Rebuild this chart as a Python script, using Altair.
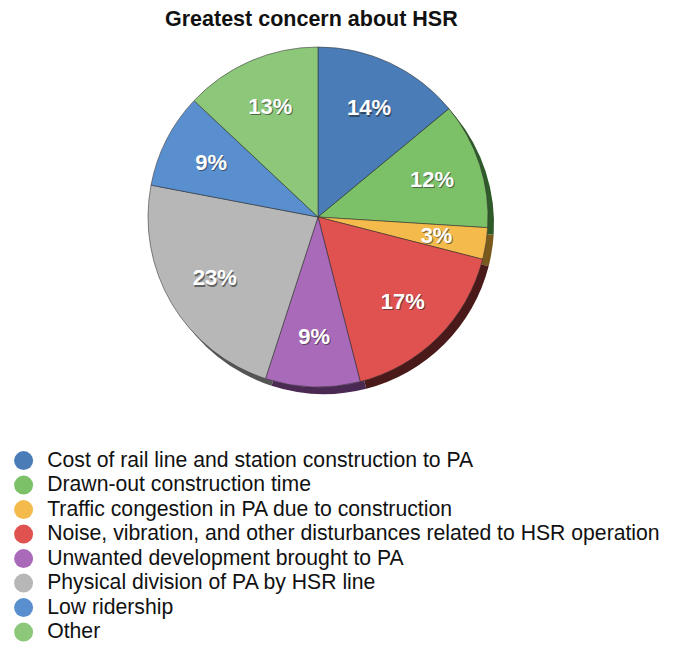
import altair as alt
import pandas as pd

categories = [
    "Cost of rail line and station construction to PA",
    "Drawn-out construction time",
    "Traffic congestion in PA due to construction",
    "Noise, vibration, and other disturbances related to HSR operation",
    "Unwanted development brought to PA",
    "Physical division of PA by HSR line",
    "Low ridership",
    "Other",
]
values = [14, 12, 3, 17, 9, 23, 9, 13]
labels = [f"{v}%" for v in values]
colors = ["#4a7db8", "#7cc068", "#f4bb4c", "#e05250", "#a96ab9", "#b7b7b7", "#5a8fcf", "#8cc77a"]
side_colors = ["#243e5c", "#2f5a2a", "#7a5a1c", "#4a1a1a", "#4a2a52", "#555555", "#2a4a70", "#3a6a34"]

df = pd.DataFrame({
    "category": categories,
    "value": values,
    "label": labels,
    "side": side_colors,
    "order": list(range(len(values))),
})

CX, CY = 310, 179
R = 170
LR = 120

base = alt.Chart(df).encode(
    theta=alt.Theta("value:Q", stack=True),
    order=alt.Order("order:Q"),
)

depth = base.mark_arc(outerRadius=R).encode(
    x=alt.value(CX + 6),
    y=alt.value(CY + 7),
    color=alt.Color("side:N", scale=None),
)

arcs = base.mark_arc(outerRadius=R, stroke="#333333", strokeWidth=0.8, strokeOpacity=0.7).encode(
    x=alt.value(CX),
    y=alt.value(CY),
    color=alt.Color(
        "category:N",
        scale=alt.Scale(domain=categories, range=colors),
        sort=categories,
        legend=alt.Legend(
            title=None,
            orient="none",
            legendX=5,
            legendY=412,
            symbolType="circle",
            symbolSize=361,
            symbolStrokeWidth=0,
            labelFontSize=21.2,
            labelFont="Liberation Sans",
            labelColor="#111111",
            labelOffset=13,
            rowPadding=2.5,
            padding=0,
            labelLimit=700,
        ),
    ),
)

shadow = base.mark_text(
    radius=LR, fontSize=22, fontWeight="bold", font="Liberation Sans", color="#222222", opacity=0.55, dx=1, dy=1.5
).encode(x=alt.value(CX), y=alt.value(CY), text="label:N")

text = base.mark_text(
    radius=LR, fontSize=22, fontWeight="bold", font="Liberation Sans", color="white"
).encode(x=alt.value(CX), y=alt.value(CY), text="label:N")

chart = alt.layer(depth, arcs, shadow, text).properties(
    width=657,
    height=607,
    autosize="none",
    padding={"top": 30, "left": 0, "right": 0, "bottom": 0},
    title=alt.TitleParams(
        "Greatest concern about HSR",
        anchor="start",
        dx=157,
        fontSize=21.5,
        fontWeight="bold",
        font="Liberation Sans",
        color="#111111",
        offset=8,
    ),
).configure_view(stroke=None)

chart.save("out.html", embed_options={"renderer": "svg", "actions": False})
